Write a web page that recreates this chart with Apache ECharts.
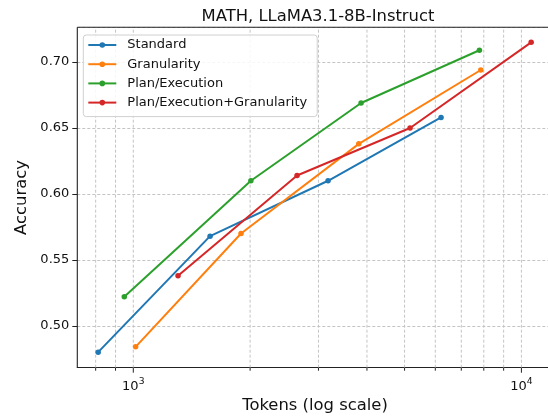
<!DOCTYPE html>
<html>
<head>
<meta charset="utf-8">
<script src="https://cdn.jsdelivr.net/npm/echarts@6/dist/echarts.min.js"></script>
<style>
html,body{margin:0;padding:0;background:#fff;}
#chart{width:548px;height:419px;}
</style>
</head>
<body>
<div id="chart"></div>
<script>
// ---- data ----
const seriesNames = ['Standard', 'Granularity', 'Plan/Execution', 'Plan/Execution+Granularity'];
const standardTokens = [812, 1577, 3176, 6209];
const standardAcc = [0.480, 0.568, 0.610, 0.658];
const granularityTokens = [1014, 1895, 3811, 7859];
const granularityAcc = [0.484, 0.570, 0.638, 0.694];
const planExecTokens = [948, 2009, 3863, 7794];
const planExecAcc = [0.522, 0.610, 0.669, 0.709];
const planExecGranTokens = [1304, 2642, 5166, 10595];
const planExecGranAcc = [0.538, 0.614, 0.650, 0.715];
const xTickValues = [800, 900, 1000, 2000, 3000, 4000, 5000, 6000, 7000, 8000, 9000, 10000];
const yTickLabels = ['0.50', '0.55', '0.60', '0.65', '0.70'];

const X_MIN = 717.4, X_MAX = 12040;
const Y_MIN = 0.4682, Y_MAX = 0.7264;
const colors = ['#1f77b4', '#ff7f0e', '#2ca02c', '#d62728'];
const FONT = 'DejaVu Sans';

function pairs(xs, ys) { return xs.map((x, i) => [x, ys[i]]); }
const seriesData = [
  pairs(standardTokens, standardAcc),
  pairs(granularityTokens, granularityAcc),
  pairs(planExecTokens, planExecAcc),
  pairs(planExecGranTokens, planExecGranAcc)
];

const chart = echarts.init(document.getElementById('chart'), null, {renderer: 'canvas'});

const lineSeries = seriesNames.map((name, i) => ({
  name: name,
  type: 'line',
  data: seriesData[i],
  symbol: 'circle',
  symbolSize: 5.5,
  showSymbol: true,
  lineStyle: {width: 2, color: colors[i]},
  itemStyle: {color: colors[i]},
  z: 5,
  silent: true
}));

const gridSeries = {
  type: 'custom',
  silent: true,
  z: 1,
  clip: false,
  data: xTickValues.map(v => [v]),
  encode: {x: 0},
  renderItem: function (params, api) {
    const v = api.value(0);
    const top = api.coord([v, Y_MAX]);
    const bot = api.coord([v, Y_MIN]);
    const isMajor = Math.abs(Math.log10(v) - Math.round(Math.log10(v))) < 1e-9;
    return {
      type: 'group',
      children: [
        {type: 'line', shape: {x1: bot[0], y1: bot[1], x2: top[0], y2: top[1]},
         style: {stroke: '#c4c4c4', lineWidth: 1, lineDash: [3, 2]}},
        {type: 'line', shape: {x1: bot[0], y1: bot[1], x2: bot[0], y2: bot[1] + (isMajor ? 5 : 3)},
         style: {stroke: '#222', lineWidth: 1}}
      ]
    };
  }
};

const topSpine = {
  type: 'line',
  silent: true,
  symbol: 'none',
  clip: false,
  data: [[X_MIN, Y_MAX], [X_MAX, Y_MAX]],
  lineStyle: {color: '#222', width: 1.1},
  z: 6
};

const leftSpine = {
  type: 'line',
  silent: true,
  symbol: 'none',
  clip: false,
  data: [[X_MIN, Y_MIN], [X_MIN, Y_MAX]],
  lineStyle: {color: '#222', width: 1.1},
  z: 6
};

const option = {
  animation: false,
  backgroundColor: '#fff',
  title: {
    text: 'MATH, LLaMA3.1-8B-Instruct',
    left: 313, top: 4,
    textAlign: 'center',
    textStyle: {fontFamily: FONT, fontSize: 16.4, fontWeight: 'normal', color: '#111'}
  },
  grid: {show: false, left: 77.3, top: 27.3, bottom: 51.3, width: 475.4, containLabel: false, outerBoundsMode: 'none'},
  legend: {
    data: seriesNames,
    orient: 'vertical',
    left: 83.3, top: 35,
    itemWidth: 28, itemHeight: 7, itemGap: 5.2,
    padding: [3, 10, 7, 4],
    backgroundColor: 'rgba(255,255,255,0.85)',
    borderColor: '#d0d0d0', borderWidth: 1, borderRadius: 3,
    textStyle: {fontFamily: FONT, fontSize: 13, lineHeight: 14, color: '#111', padding: [0, 0, 0, 6]}
  },
  xAxis: {
    type: 'log', logBase: 10,
    min: X_MIN, max: X_MAX,
    name: 'Tokens (log scale)',
    nameLocation: 'middle', nameGap: 28,
    nameTextStyle: {fontFamily: FONT, fontSize: 16.4, color: '#111'},
    axisLine: {show: true, onZero: false, lineStyle: {color: '#222', width: 1.1}},
    axisTick: {show: false},
    splitLine: {show: false},
    axisLabel: {
      margin: 7,
      showMinLabel: false, showMaxLabel: false,
      formatter: function (v) {
        const e = Math.log10(v);
        if (Math.abs(e - Math.round(e)) < 1e-6) return '{b|10}{s|' + Math.round(e) + '}';
        return '';
      },
      rich: {
        b: {fontFamily: FONT, fontSize: 13, color: '#111', lineHeight: 18, verticalAlign: 'bottom'},
        s: {fontFamily: FONT, fontSize: 9.2, color: '#111', lineHeight: 18, verticalAlign: 'bottom', padding: [0, 0, 7, 0]}
      }
    }
  },
  yAxis: {
    type: 'value',
    min: Y_MIN, max: Y_MAX,
    splitNumber: 5,
    name: 'Accuracy',
    nameLocation: 'middle', nameGap: 45,
    nameTextStyle: {fontFamily: FONT, fontSize: 16.4, color: '#111'},
    axisLine: {show: false, onZero: false},
    axisTick: {show: true, length: 5, lineStyle: {color: '#222', width: 1}},
    splitLine: {show: true, lineStyle: {color: '#c4c4c4', width: 1, type: [3, 2]}},
    axisLabel: {
      margin: 8,
      showMinLabel: false, showMaxLabel: false,
      fontFamily: FONT, fontSize: 13, color: '#111',
      formatter: function (v) {
        const s = v.toFixed(2);
        return yTickLabels.indexOf(s) >= 0 && Math.abs(v * 100 - Math.round(v * 100)) < 1e-6 ? s : '';
      }
    }
  },
  series: [gridSeries].concat(lineSeries).concat([topSpine, leftSpine])
};

chart.setOption(option);
</script>
</body>
</html>
